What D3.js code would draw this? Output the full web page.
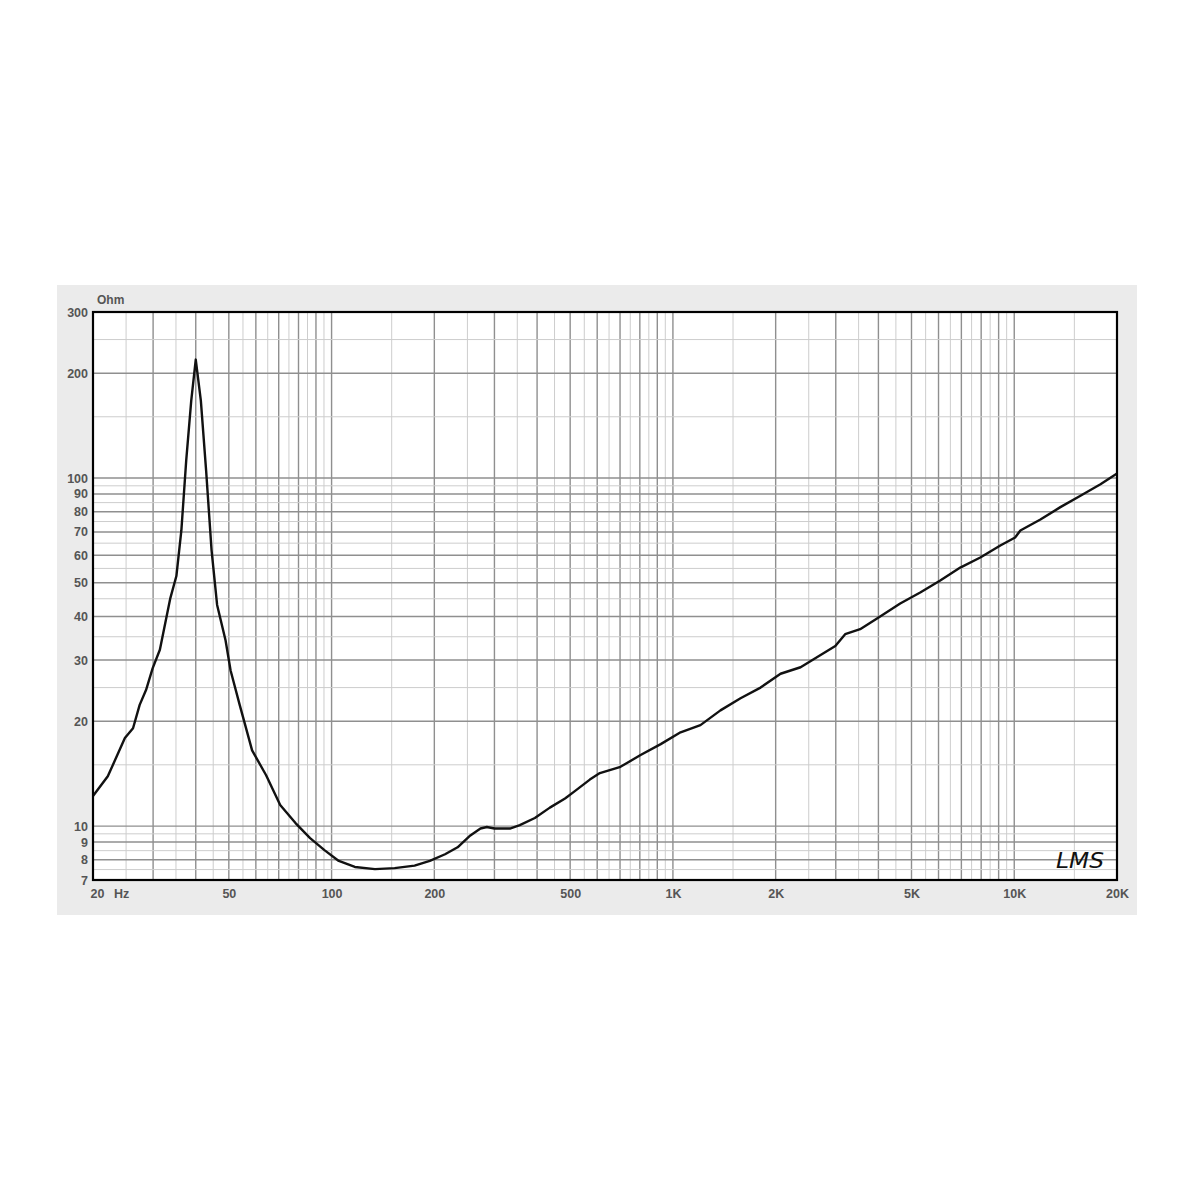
<!DOCTYPE html>
<html>
<head>
<meta charset="utf-8">
<script src="https://cdn.jsdelivr.net/npm/d3@7/dist/d3.min.js"></script>
<style>
  html, body { margin: 0; padding: 0; background: #fff; }
  svg { display: block; }
  text { font-family: "Liberation Sans", Arial, sans-serif; font-weight: bold; fill: #555; font-size: 12px; }
</style>
</head>
<body>
<svg id="chart" width="1200" height="1200"></svg>
<script>
// Impedance curve (frequency in Hz, impedance in Ohm)
const freqs = [20, 22.1, 24.8, 26.2, 27.4, 28.6, 29.9, 31.4, 32.7, 33.7, 35.1, 36.3, 37.5, 38.8, 40.0,
  41.4, 42.9, 44.5, 46.2, 48.9, 50.6, 53.8, 58.5, 64.3, 70.7, 78.4, 86.5, 95.3, 105, 117, 134, 153, 175,
  194, 215, 234, 255, 273, 285, 300, 333, 356, 394, 436, 483, 516, 571, 611, 702, 804, 921, 1053, 1204,
  1378, 1578, 1806, 2067, 2366, 2708, 2991, 3196, 3536, 4047, 4633, 5303, 6070, 6948, 7953, 9103, 10060,
  10420, 11930, 13650, 15630, 17890, 20000];
const impedance = [12.2, 13.9, 17.9, 19.1, 22.3, 24.6, 28.4, 32.1, 39.1, 45.2, 52.3, 70.7, 112, 167, 219,
  167, 105, 62.1, 43.2, 34.2, 28.0, 22.3, 16.5, 14.0, 11.5, 10.2, 9.23, 8.53, 7.94, 7.63, 7.52, 7.57, 7.7,
  7.94, 8.3, 8.69, 9.4, 9.84, 9.94, 9.84, 9.84, 10.06, 10.55, 11.3, 12.0, 12.6, 13.6, 14.2, 14.8, 16.0, 17.2, 18.6, 19.5,
  21.5, 23.3, 25.0, 27.4, 28.6, 31.0, 32.9, 35.6, 36.8, 40.0, 43.6, 46.9, 50.8, 55.3, 59.1, 64.0, 67.5,
  70.7, 76.0, 82.5, 89.0, 96.0, 103];

const xTickValues = [20, 50, 100, 200, 500, 1000, 2000, 5000, 10000, 20000];
const xTickLabels = ["20", "50", "100", "200", "500", "1K", "2K", "5K", "10K", "20K"];
const yTickValues = [300, 200, 100, 90, 80, 70, 60, 50, 40, 30, 20, 10, 9, 8, 7];
const yTickLabels = ["300", "200", "100", "90", "80", "70", "60", "50", "40", "30", "20", "10", "9", "8", "7"];

const svg = d3.select("#chart");
const L = 93, T = 312, R = 1117, B = 880;

svg.append("rect").attr("x", 57).attr("y", 285).attr("width", 1080).attr("height", 630).attr("fill", "#ebebeb");
svg.append("rect").attr("x", L).attr("y", T).attr("width", R - L).attr("height", B - T).attr("fill", "#fff");

const x = d3.scaleLog().domain([20, 20000]).range([L, R]);
const y = d3.scaleLog().domain([7, 300]).range([B, T]);

// grid values: half-step multiples within each decade
function gridVals(min, max) {
  const out = [];
  for (let dec = 1; dec <= 10000; dec *= 10) {
    for (let k = 2; k < 20; k++) {
      const v = dec * k / 2;
      if (v > min && v < max) out.push({ v: v, major: k % 2 === 0 });
    }
  }
  return out;
}
const gx = gridVals(20, 20000);
const gy = gridVals(7, 300);

const grid = svg.append("g");
grid.selectAll("line.vx").data(gx).enter().append("line")
  .attr("x1", d => x(d.v)).attr("x2", d => x(d.v)).attr("y1", T).attr("y2", B)
  .attr("stroke", d => d.major ? "#8f8f8f" : "#cdcdcd").attr("stroke-width", d => d.major ? 1.4 : 1);
grid.selectAll("line.hy").data(gy).enter().append("line")
  .attr("y1", d => y(d.v)).attr("y2", d => y(d.v)).attr("x1", L).attr("x2", R)
  .attr("stroke", d => d.major ? "#8f8f8f" : "#cdcdcd").attr("stroke-width", d => d.major ? 1.4 : 1);

// curve
const pts = freqs.map((f, i) => [f, impedance[i]]);
const line = d3.line().x(d => x(d[0])).y(d => y(d[1]));
svg.append("path").datum(pts).attr("d", line).attr("fill", "none")
  .attr("stroke", "#111").attr("stroke-width", 2.4).attr("stroke-linejoin", "round");

// frame
svg.append("rect").attr("x", L).attr("y", T).attr("width", R - L).attr("height", B - T)
  .attr("fill", "none").attr("stroke", "#000").attr("stroke-width", 2.2);

// axes using d3 axis generators (styled)
const xAxis = d3.axisBottom(x).tickValues(xTickValues).tickSize(0).tickPadding(7)
  .tickFormat((d, i) => xTickLabels[i]);
const gxa = svg.append("g").attr("transform", `translate(0,${B + 2})`).call(xAxis);
gxa.select(".domain").remove();
gxa.selectAll("text").style("font-family", "Liberation Sans, Arial, sans-serif")
  .style("font-weight", "bold").style("font-size", "12.5px").attr("fill", "#555");
gxa.selectAll(".tick").filter(d => d === 20).select("text").attr("dx", 4);

const yAxis = d3.axisLeft(y).tickValues(yTickValues).tickSize(0).tickPadding(4)
  .tickFormat((d, i) => yTickLabels[i]);
const gya = svg.append("g").attr("transform", `translate(${L - 1},0)`).call(yAxis);
gya.select(".domain").remove();
gya.selectAll("text").style("font-family", "Liberation Sans, Arial, sans-serif")
  .style("font-weight", "bold").style("font-size", "12.5px").attr("fill", "#555");

svg.append("text").attr("x", 114).attr("y", 898).style("font-size", "12.5px").text("Hz");
svg.append("text").attr("x", 97).attr("y", 304).style("font-size", "12px").text("Ohm");

// signature
svg.append("text").attr("x", 1056).attr("y", 868)
  .style("font-family", "DejaVu Sans, sans-serif").style("font-style", "italic")
  .style("font-weight", "normal").style("font-size", "22px").style("fill", "#111")
  .attr("textLength", 48).attr("lengthAdjust", "spacingAndGlyphs").text("LMS");
</script>
</body>
</html>
